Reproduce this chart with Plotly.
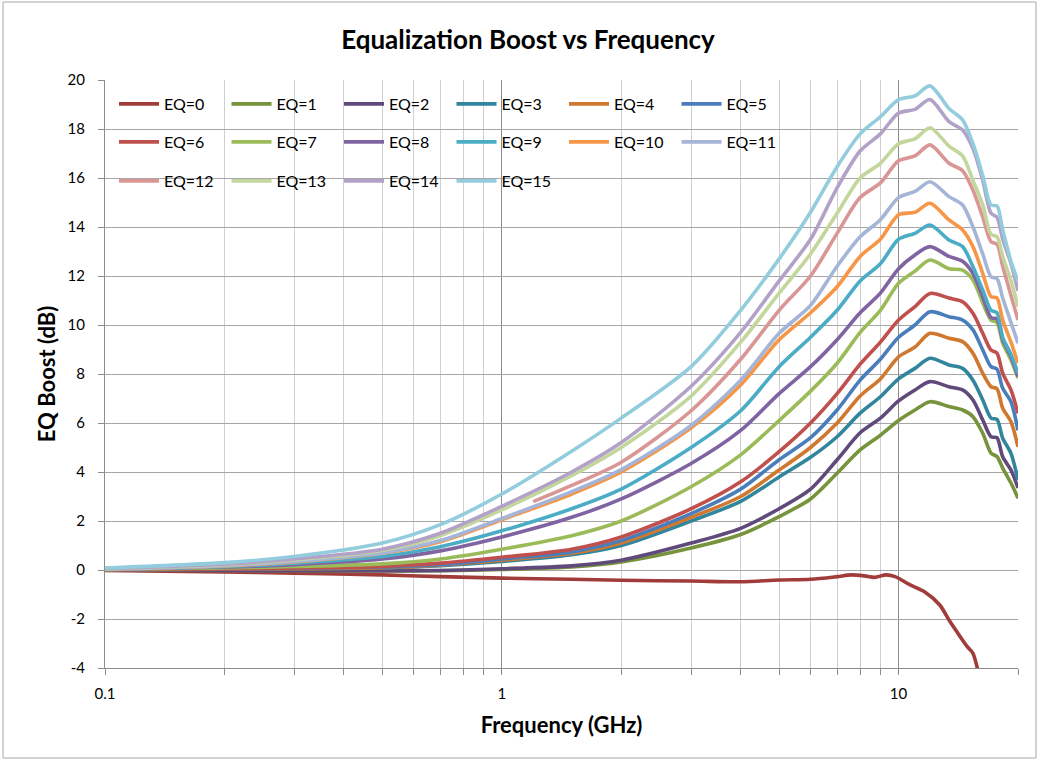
import plotly.graph_objects as go
import math

# ---------------- data ----------------
FREQ = [0.1, 0.2, 0.3, 0.5, 0.7, 1, 1.5, 2, 3, 4, 5, 6, 7, 8, 9, 10, 11, 12,
        13.4, 14.5, 15.4, 16.3, 17.1, 17.7, 18.3, 19.2, 20]
FREQ_EQ0 = [0.1, 0.2, 0.3, 0.5, 0.7, 1, 1.5, 2, 3, 4, 5, 6, 7, 7.6, 8.2, 8.7,
            9.3, 9.8, 10.7, 11.6, 12.7, 13.4, 14.0, 14.9, 15.4, 15.8, 16.5]
FREQ_EQ12 = [1.2, 1.5, 2, 3, 4, 5, 6, 7, 8, 9, 10, 11, 12,
             13.4, 14.5, 15.4, 16.3, 17.1, 17.7, 18.3, 19.2, 20]

EQ0 = [-0.02, -0.08, -0.13, -0.2, -0.27, -0.33, -0.38, -0.42, -0.45, -0.48, -0.41,
       -0.38, -0.27, -0.2, -0.24, -0.3, -0.2, -0.27, -0.61, -0.88, -1.43, -2.04,
       -2.5, -3.13, -3.4, -4.0, -5.0]
EQ1 = [0, -0.02, -0.03, -0.04, -0.03, 0.02, 0.12, 0.33, 0.9, 1.45, 2.18, 2.9, 3.95,
       4.9, 5.5, 6.1, 6.53, 6.87, 6.67, 6.53, 6.26, 5.58, 4.77, 4.63, 4.16, 3.55, 2.93]
EQ2 = [0, -0.02, -0.03, -0.03, -0.02, 0.05, 0.17, 0.4, 1.1, 1.7, 2.5, 3.3, 4.5,
       5.6, 6.2, 6.9, 7.35, 7.69, 7.48, 7.35, 6.94, 6.12, 5.44, 5.4, 4.62, 4.08, 3.35]
EQ3 = [0.01, 0.03, 0.05, 0.08, 0.18, 0.35, 0.62, 1.0, 2.0, 2.8, 3.8, 4.6, 5.44,
       6.4, 7.07, 7.8, 8.23, 8.64, 8.37, 8.23, 7.75, 6.94, 6.2, 6.15, 5.38, 4.76, 3.67]
EQ4 = [0.01, 0.03, 0.05, 0.09, 0.2, 0.4, 0.68, 1.1, 2.15, 3.0, 4.08, 5.0, 6.0,
       7.1, 7.8, 8.7, 9.1, 9.66, 9.46, 9.32, 8.85, 8.03, 7.48, 7.4, 6.6, 6.05, 5.03]
EQ5 = [0.01, 0.04, 0.07, 0.12, 0.22, 0.45, 0.74, 1.2, 2.3, 3.3, 4.5, 5.4, 6.53,
       7.75, 8.6, 9.5, 10.0, 10.54, 10.34, 10.2, 9.8, 8.98, 8.3, 8.2, 7.42, 6.87, 5.7]
EQ6 = [0.01, 0.04, 0.08, 0.15, 0.28, 0.52, 0.85, 1.35, 2.5, 3.6, 4.83, 6.0, 7.2,
       8.4, 9.3, 10.2, 10.75, 11.29, 11.1, 10.95, 10.48, 9.66, 8.98, 8.85, 8.03, 7.35, 6.4]
EQ7 = [0.02, 0.08, 0.14, 0.25, 0.45, 0.85, 1.4, 2.0, 3.4, 4.7, 6.1, 7.3, 8.44,
       9.7, 10.6, 11.7, 12.2, 12.65, 12.3, 12.24, 11.84, 10.9, 10.2, 10.1, 9.26, 8.57, 7.83]
EQ8 = [0.03, 0.12, 0.22, 0.45, 0.78, 1.35, 2.15, 2.9, 4.35, 5.7, 7.2, 8.3, 9.4,
       10.5, 11.3, 12.3, 12.86, 13.2, 12.8, 12.6, 12.1, 11.15, 10.3, 10.25, 9.4, 8.7, 7.9]
EQ9 = [0.03, 0.14, 0.28, 0.55, 0.95, 1.6, 2.5, 3.3, 5.0, 6.5, 8.3, 9.5, 10.6,
       11.8, 12.5, 13.5, 13.74, 14.08, 13.47, 13.2, 12.38, 11.43, 10.6, 10.5, 9.5, 8.8, 8.03]
EQ10 = [0.04, 0.17, 0.33, 0.68, 1.15, 2.05, 3.1, 4.0, 5.8, 7.55, 9.4, 10.5, 11.56,
        12.8, 13.5, 14.5, 14.6, 14.97, 14.29, 13.88, 13.2, 12.1, 11.16, 11.1, 10.2, 9.3, 8.44]
EQ11 = [0.04, 0.18, 0.35, 0.7, 1.2, 2.1, 3.2, 4.1, 5.9, 7.75, 9.66, 10.8, 12.4,
        13.6, 14.3, 15.2, 15.45, 15.85, 15.24, 14.9, 14.0, 12.9, 11.97, 11.9, 11.1, 10.1, 9.26]
EQ12 = [2.79, 3.45, 4.4, 6.5, 8.6, 10.6, 12.0, 13.74, 15.2, 15.8, 16.7, 16.9, 17.35,
        16.6, 16.3, 15.5, 14.4, 13.4, 13.3, 12.4, 11.2, 10.2]
EQ13 = [0.05, 0.22, 0.42, 0.8, 1.4, 2.45, 3.85, 5.0, 7.1, 9.3, 11.3, 12.9, 14.56,
        16.0, 16.6, 17.4, 17.6, 18.05, 17.3, 16.9, 15.9, 14.9, 13.7, 13.6, 12.8, 11.8, 10.75]
EQ14 = [0.06, 0.24, 0.45, 0.85, 1.5, 2.6, 4.0, 5.2, 7.5, 9.7, 11.8, 13.5, 15.6,
        17.1, 17.8, 18.65, 18.8, 19.2, 18.3, 17.96, 17.2, 15.9, 14.56, 14.4, 13.5, 12.5, 11.4]
EQ15 = [0.08, 0.3, 0.55, 1.1, 1.85, 3.1, 4.85, 6.2, 8.3, 10.6, 12.7, 14.6, 16.46,
        17.8, 18.5, 19.2, 19.35, 19.76, 18.84, 18.37, 17.4, 16.1, 14.9, 14.86, 13.9, 12.6, 11.8]

SERIES_NAMES = ["EQ=%d" % i for i in range(16)]
SERIES_Y = [EQ0, EQ1, EQ2, EQ3, EQ4, EQ5, EQ6, EQ7, EQ8, EQ9, EQ10, EQ11,
            EQ12, EQ13, EQ14, EQ15]
SERIES_X = [FREQ_EQ0] + [FREQ] * 11 + [FREQ_EQ12] + [FREQ] * 3

X_TICKS = [0.1, 1, 10]
X_TICK_TEXT = ["0.1", "1", "10"]
X_MINOR = [0.2, 0.3, 0.4, 0.5, 0.6, 0.7, 0.8, 0.9, 2, 3, 4, 5, 6, 7, 8, 9, 20]
Y_TICKS = [-4, -2, 0, 2, 4, 6, 8, 10, 12, 14, 16, 18, 20]
Y_TICK_TEXT = ["-4", "-2", "0", "2", "4", "6", "8", "10", "12", "14", "16", "18", "20"]

COLORS = ["#A03D3A", "#77933C", "#604A7B", "#31859C", "#D0782F", "#4A7EBB",
          "#C0504D", "#9BBB59", "#8064A2", "#4BACC6", "#F79646", "#A5B5D8",
          "#D99694", "#C3D69B", "#B3A2C7", "#93CDDD"]

FONT = "Lato"

fig = go.Figure()
for i, (name, xs, ys) in enumerate(zip(SERIES_NAMES, SERIES_X, SERIES_Y)):
    leg = "legend" if i < 6 else ("legend2" if i < 12 else "legend3")
    fig.add_trace(go.Scatter(
        x=xs, y=ys, name=name, mode="lines",
        line=dict(color=COLORS[i], width=3.6, shape="spline", smoothing=0.8),
        legend=leg,
    ))

W, H = 1039, 761
PL, PR, PT, PB = 105, 1018, 80, 668          # plot area in page pixels
L, R, T, B = PL, W - PR, PT, H - PB
pw, ph = PR - PL, PB - PT


def px_x(p):
    return (p - PL) / pw


def px_y(p):
    return (PB - p) / ph


leg_common = dict(orientation="h", bgcolor="rgba(0,0,0,0)", borderwidth=0,
                  font=dict(family=FONT, size=16, color="#000000"),
                  entrywidth=57.5, entrywidthmode="pixels", itemwidth=40,
                  xanchor="left", yanchor="middle", x=px_x(114))

fig.update_layout(
    width=W, height=H,
    margin=dict(l=L, r=R, t=T, b=B),
    paper_bgcolor="white", plot_bgcolor="white",
    font=dict(family=FONT, color="#000000"),
    title=dict(text="<b>Equalization Boost vs Frequency</b>",
               font=dict(family=FONT, size=26, color="#000000"),
               x=528 / W, xref="container", xanchor="center",
               y=1 - 40 / H, yref="container", yanchor="middle"),
    legend=dict(**leg_common, y=px_y(104)),
    legend2=dict(**leg_common, y=px_y(142)),
    legend3=dict(**leg_common, y=px_y(181)),
    xaxis=dict(
        type="log", range=[math.log10(0.1), math.log10(20)],
        tickvals=X_TICKS, ticktext=X_TICK_TEXT,
        showgrid=True, gridcolor="#8C8C8C", gridwidth=1,
        ticks="outside", ticklen=6, tickcolor="#8C8C8C",
        ticklabelstandoff=6,
        showline=True, linecolor="#8C8C8C", linewidth=1,
        tickfont=dict(family=FONT, size=15, color="#000000"),
        minor=dict(tickvals=X_MINOR, showgrid=True, gridcolor="#CFCFCF",
                   gridwidth=1, ticks="outside", ticklen=6, tickcolor="#8C8C8C"),
        title=dict(text="<b>Frequency (GHz)</b>", standoff=16,
                   font=dict(family=FONT, size=22, color="#000000")),
        zeroline=False,
    ),
    yaxis=dict(
        range=[-4, 20], tickvals=Y_TICKS, ticktext=Y_TICK_TEXT,
        showgrid=True, gridcolor="#A6A6A6", gridwidth=1,
        ticks="outside", ticklen=6, tickcolor="#8C8C8C",
        ticklabelstandoff=10,
        showline=True, linecolor="#8C8C8C", linewidth=1,
        tickfont=dict(family=FONT, size=15, color="#000000"),
        title=dict(text="<b>EQ Boost (dB)</b>", standoff=5,
                   font=dict(family=FONT, size=22, color="#000000")),
        zeroline=False,
    ),
    shapes=[
        # white legend background covering gridlines
        dict(type="rect", xref="paper", yref="paper", layer="between",
             x0=px_x(112), x1=px_x(788), y0=px_y(200), y1=px_y(86),
             fillcolor="white", line=dict(width=0)),
        # outer chart border
        dict(type="rect", xref="paper", yref="paper", layer="above",
             x0=px_x(3), x1=px_x(1036), y0=px_y(758), y1=px_y(2),
             fillcolor="rgba(0,0,0,0)", line=dict(color="#A6A6A6", width=1)),
    ],
)

fig.write_html("out.html", config={"displayModeBar": False},
               post_script="document.body.style.margin='0';document.body.style.padding='0';")
